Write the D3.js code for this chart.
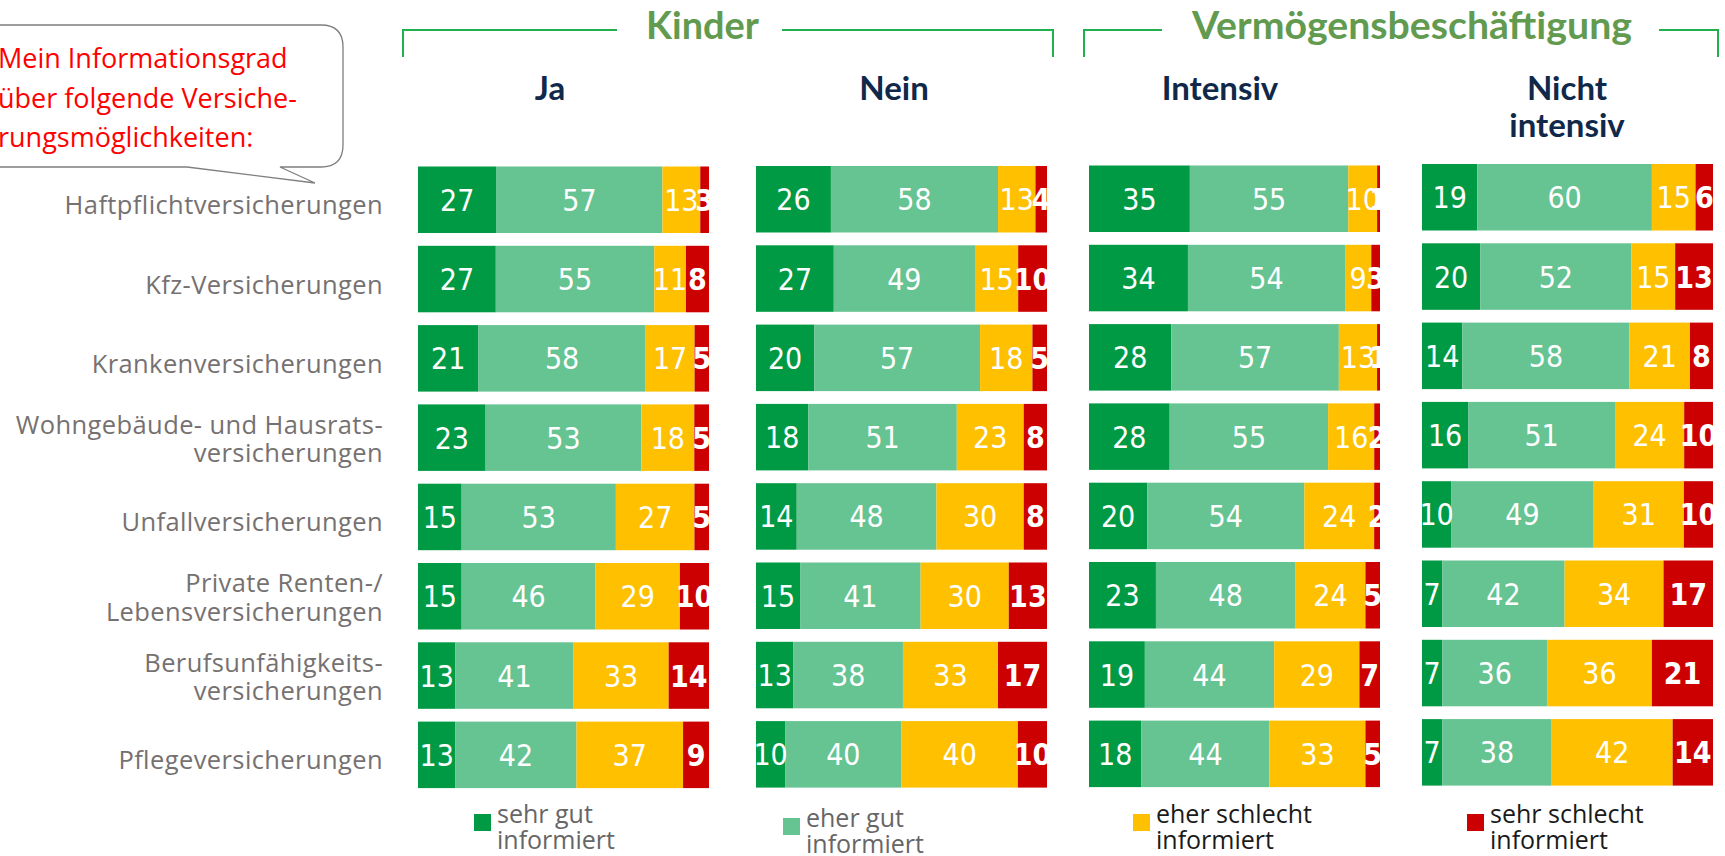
<!DOCTYPE html>
<html>
<head>
<meta charset="utf-8">
<script src="https://cdn.jsdelivr.net/npm/d3@7"></script>
<style>
  html, body { margin: 0; padding: 0; background: #fff; overflow: hidden; }
</style>
</head>
<body>
<div id="chart"></div>
<script>
// Informationsgrad zu Versicherungen, nach Kindern und Vermoegensbeschaeftigung.
// Gestapelte 100%-Balken, 4 Panels nebeneinander.

const categories = [
  ['Haftpflichtversicherungen'],
  ['Kfz-Versicherungen'],
  ['Krankenversicherungen'],
  ['Wohngebäude- und Hausrats-', 'versicherungen'],
  ['Unfallversicherungen'],
  ['Private Renten-/', 'Lebensversicherungen'],
  ['Berufsunfähigkeits-', 'versicherungen'],
  ['Pflegeversicherungen']
];

const seriesNames = ['sehr gut informiert', 'eher gut informiert', 'eher schlecht informiert', 'sehr schlecht informiert'];
const seriesColors = ['#009a44', '#66c392', '#ffc000', '#cc0000'];

const groupNames = ['Kinder', 'Vermögensbeschäftigung'];
const panelNames = ['Ja', 'Nein', 'Intensiv', 'Nicht intensiv'];

// je Zeile: sehr gut, eher gut, eher schlecht, sehr schlecht
const valuesJa = [
  [27, 57, 13, 3], [27, 55, 11, 8], [21, 58, 17, 5], [23, 53, 18, 5],
  [15, 53, 27, 5], [15, 46, 29, 10], [13, 41, 33, 14], [13, 42, 37, 9]
];
const valuesNein = [
  [26, 58, 13, 4], [27, 49, 15, 10], [20, 57, 18, 5], [18, 51, 23, 8],
  [14, 48, 30, 8], [15, 41, 30, 13], [13, 38, 33, 17], [10, 40, 40, 10]
];
const valuesIntensiv = [
  [35, 55, 10, 1], [34, 54, 9, 3], [28, 57, 13, 1], [28, 55, 16, 2],
  [20, 54, 24, 2], [23, 48, 24, 5], [19, 44, 29, 7], [18, 44, 33, 5]
];
const valuesNichtIntensiv = [
  [19, 60, 15, 6], [20, 52, 15, 13], [14, 58, 21, 8], [16, 51, 24, 10],
  [10, 49, 31, 10], [7, 42, 34, 17], [7, 36, 36, 21], [7, 38, 42, 14]
];
const panelValues = [valuesJa, valuesNein, valuesIntensiv, valuesNichtIntensiv];

const calloutLines = ['Mein Informationsgrad', 'über folgende Versiche-', 'rungsmöglichkeiten:'];

// --- Layout ---
const width = 1725, height = 856;
const panels = [
  { x0: 418, x1: 709, dy: 0, head: 550 },
  { x0: 756, x1: 1047, dy: -0.5, head: 894 },
  { x0: 1089, x1: 1380, dy: -1, head: 1220 },
  { x0: 1422, x1: 1713, dy: -2.5, head: 1567 }
];
const groups = [
  { x0: 403, x1: 1053, lineL: 617, lineR: 782, text: 702.5, textW: 113 },
  { x0: 1084, x1: 1718, lineL: 1162, lineR: 1659, text: 1412, textW: 440 }
];
const rowTop = 166.5, rowStep = 79.3, barH = 66.5;
const labelFont = '"Open Sans", "Noto Sans", sans-serif';
const numFont = '"Liberation Sans Narrow", "DejaVu Sans Condensed", "Arial Narrow", sans-serif';
const headFont = 'Lato, "Open Sans", sans-serif';

const svg = d3.select('#chart').append('svg')
  .attr('width', width).attr('height', height)
  .attr('font-family', labelFont);

const keys = categories.map(c => c.join(' '));
const yBase = d3.scaleBand().domain(keys)
  .range([rowTop, rowTop + (keys.length - 1) * rowStep + barH])
  .paddingInner(1 - barH / rowStep);

// Sprechblase
const r = 22, bx1 = 343, by0 = 25, by1 = 167;
svg.append('path')
  .attr('d', `M-30,${by0} H${bx1 - r} Q${bx1},${by0} ${bx1},${by0 + r} V${by1 - r} Q${bx1},${by1} ${bx1 - r},${by1}` +
    ` H280 L315,183 L187,${by1} H-30 Z`)
  .attr('fill', '#fff').attr('stroke', '#7f7f7f').attr('stroke-width', 1.3);

svg.append('g').selectAll('text').data(calloutLines).join('text')
  .attr('x', -2).attr('y', (d, i) => 68 + i * 39.5)
  .attr('fill', '#ff0000').attr('font-size', '27px')
  .text(d => d);

// Kategorien (links, rechtsbuendig)
const catG = svg.append('g').attr('fill', '#767171').attr('font-size', '25.5px').attr('text-anchor', 'end');
categories.forEach((lines, i) => {
  const cy = yBase(keys[i]) + yBase.bandwidth() / 2;
  const t = catG.append('text').attr('letter-spacing', '0.4px');
  lines.forEach((ln, j) => {
    const yy = lines.length === 1 ? cy + 14.5 : cy - 4 + j * 28.5;
    t.append('tspan').attr('x', 383).attr('y', yy).text(ln);
  });
});

// Gruppen-Klammern
const brG = svg.append('g');
groups.forEach((g, i) => {
  brG.append('path')
    .attr('d', `M${g.x0},57 V30 H${g.lineL} M${g.lineR},30 H${g.x1} V57`)
    .attr('fill', 'none').attr('stroke', '#22b04e').attr('stroke-width', 2);
  brG.append('text')
    .attr('x', g.text).attr('y', 39).attr('text-anchor', 'middle')
    .attr('fill', '#629b4f').attr('font-family', headFont).attr('font-weight', 700)
    .attr('font-size', '38px')
    .attr('textLength', g.textW).attr('lengthAdjust', 'spacingAndGlyphs')
    .text(groupNames[i]);
});

// Panels
panelNames.forEach((name, p) => {
  const cfg = panels[p];
  const data = panelValues[p];
  const g = svg.append('g');

  const words = name === 'Nicht intensiv' ? ['Nicht', 'intensiv'] : [name];
  const ht = g.append('text').attr('text-anchor', 'middle')
    .attr('fill', '#10284a').attr('font-family', headFont).attr('font-weight', 700)
    .attr('font-size', '33px');
  words.forEach((w, j) => ht.append('tspan').attr('x', cfg.head).attr('y', 100 + j * 37).text(w));

  data.forEach((row, i) => {
    const total = d3.sum(row);
    const x = d3.scaleLinear().domain([0, total]).range([cfg.x0, cfg.x1]);
    const y0 = yBase(keys[i]) + cfg.dy;
    const stacked = d3.cumsum([0].concat(row));
    const segs = row.map((v, k) => ({ v, k, a: stacked[k], b: stacked[k + 1] }));

    g.selectAll(null).data(segs).join('rect')
      .attr('x', d => x(d.a)).attr('y', y0)
      .attr('width', d => x(d.b) - x(d.a)).attr('height', yBase.bandwidth())
      .attr('fill', d => seriesColors[d.k]);

    g.selectAll(null).data(segs).join('text')
      .attr('x', d => (x(d.a) + x(d.b)) / 2)
      .attr('y', y0 + yBase.bandwidth() / 2 + 11)
      .attr('text-anchor', 'middle').attr('fill', '#fff')
      .attr('font-family', numFont).attr('font-size', '30px')
      .attr('font-weight', d => d.k === 3 ? 700 : 400)
      .text(d => d.v);
  });
});

// Legende
const legendX = [474, 783, 1133, 1467];
const legendDy = [0, 4, 0, 0];
const legendText = ['#666666', '#666666', '#1a1a1a', '#1a1a1a'];
seriesNames.forEach((s, i) => {
  const g = svg.append('g').attr('transform', `translate(${legendX[i]},${legendDy[i]})`);
  g.append('rect').attr('x', 0).attr('y', 814).attr('width', 17).attr('height', 17)
    .attr('fill', seriesColors[i]);
  const parts = s.split(' ');
  const lines = [parts.slice(0, -1).join(' '), parts[parts.length - 1]];
  const t = g.append('text').attr('fill', legendText[i]).attr('font-size', '25px');
  lines.forEach((ln, j) => t.append('tspan').attr('x', 23).attr('y', 823 + j * 25.5).text(ln));
});
</script>
</body>
</html>
